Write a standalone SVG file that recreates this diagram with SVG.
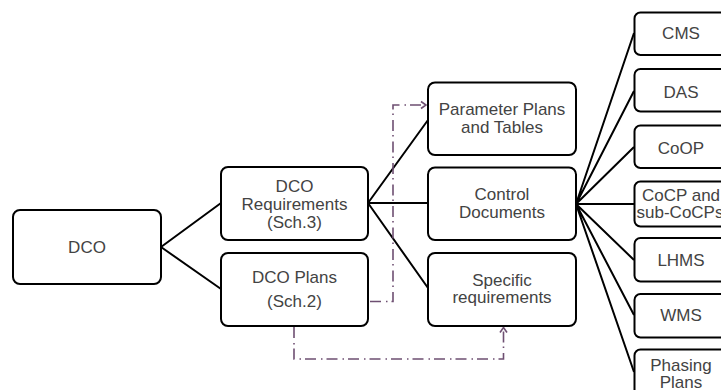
<svg xmlns="http://www.w3.org/2000/svg" width="721" height="390" viewBox="0 0 721 390">
<style>
.box{fill:#fff;stroke:#000;stroke-width:2}
.t{font-family:"Liberation Sans",Arial,sans-serif;font-size:17px;fill:#434343;text-anchor:middle}
.ln{stroke:#000;stroke-width:2;fill:none}
.dd{stroke:#6e4f72;stroke-width:1.6;fill:none;stroke-dasharray:11,5,1.5,4}
</style>
<defs>
<marker id="ah" viewBox="0 0 10 10" refX="9" refY="5" markerWidth="10" markerHeight="10" markerUnits="userSpaceOnUse" orient="auto">
<path d="M4,1.5 L9,5 L4,8.5" fill="none" stroke="#6e4f72" stroke-width="1.6"/>
</marker>
</defs>
<g id="connectors">
<path class="ln" d="M161,247 L221,203 M161,247 L221,289"/>
<path class="ln" d="M368,203 L428,120 M368,203 L428,203 M368,203 L428,288"/>
<path class="ln" d="M576,204 L634,33 M576,204 L634,91 M576,204 L634,147 M576,204 L634,204 M576,204 L634,260 M576,204 L634,315 M576,204 L634,372"/>
<path class="dd" d="M370,301.5 H393 V105 H426" marker-end="url(#ah)"/>
<path class="dd" d="M294,327 V359 H503.5 V327.5" marker-end="url(#ah)"/>
</g>
<g id="dco"><rect class="box" x="13" y="210" width="148" height="74" rx="7"/><text class="t" x="87" y="253">DCO</text></g>
<g id="dco-req"><rect class="box" x="221" y="167" width="147" height="73" rx="7"/><text class="t" x="294.5" y="192">DCO</text><text class="t" x="294.5" y="209.5">Requirements</text><text class="t" x="294.5" y="227.5">(Sch.3)</text></g>
<g id="dco-plans"><rect class="box" x="221" y="253" width="147" height="73" rx="7"/><text class="t" x="294.5" y="282.5">DCO Plans</text><text class="t" x="294.5" y="306.5">(Sch.2)</text></g>
<g id="param"><rect class="box" x="428" y="82.5" width="148" height="72.5" rx="7"/><text class="t" x="502" y="115">Parameter Plans</text><text class="t" x="502" y="132.5">and Tables</text></g>
<g id="control"><rect class="box" x="428" y="167.5" width="148" height="72.5" rx="7"/><text class="t" x="502" y="200">Control</text><text class="t" x="502" y="218">Documents</text></g>
<g id="specific"><rect class="box" x="428" y="253" width="148" height="73" rx="7"/><text class="t" x="502" y="286">Specific</text><text class="t" x="502" y="303">requirements</text></g>
<g id="cms"><rect class="box" x="634.5" y="12.5" width="110" height="42.5" rx="6"/><text class="t" x="681" y="39">CMS</text></g>
<g id="das"><rect class="box" x="634.5" y="69" width="110" height="42.5" rx="6"/><text class="t" x="681" y="97.5">DAS</text></g>
<g id="coop"><rect class="box" x="634.5" y="125.5" width="110" height="42.5" rx="6"/><text class="t" x="681" y="154">CoOP</text></g>
<g id="cocp"><rect class="box" x="634.5" y="181.5" width="110" height="45" rx="6"/><text class="t" x="681" y="201">CoCP and</text><text class="t" x="680" y="218">sub-CoCPs</text></g>
<g id="lhms"><rect class="box" x="634.5" y="238" width="110" height="43.5" rx="6"/><text class="t" x="681" y="266">LHMS</text></g>
<g id="wms"><rect class="box" x="634.5" y="294" width="110" height="43.5" rx="6"/><text class="t" x="681" y="321">WMS</text></g>
<g id="phasing"><rect class="box" x="634.5" y="349.5" width="110" height="60" rx="6"/><text class="t" x="681" y="370.5">Phasing</text><text class="t" x="681" y="388">Plans</text></g>
</svg>
